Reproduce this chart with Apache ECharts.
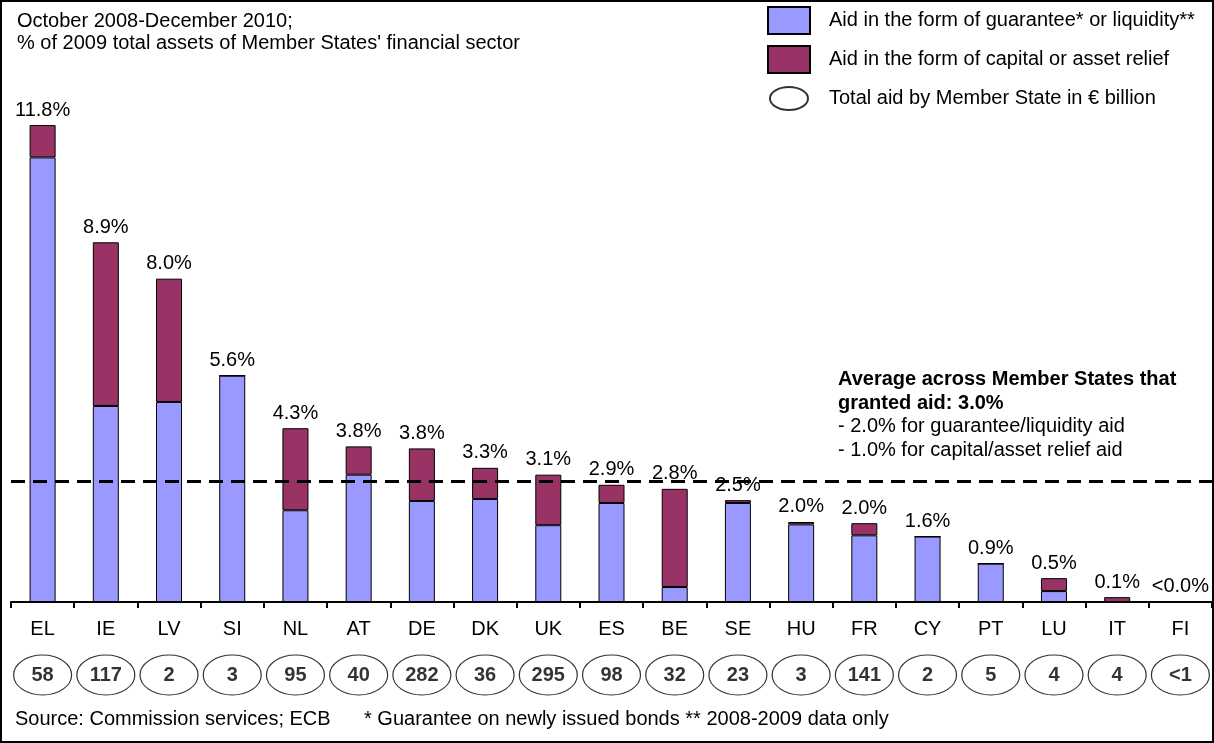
<!DOCTYPE html>
<html>
<head>
<meta charset="utf-8">
<script src="https://cdn.jsdelivr.net/npm/echarts@6/dist/echarts.min.js"></script>
<style>
  body { margin: 0; background: #fff; }
  #chart { width: 1214px; height: 743px; }
</style>
</head>
<body>
<div id="chart"></div>
<script>
  // State aid per Member State, % of 2009 financial sector assets
  var countries = ['EL', 'IE', 'LV', 'SI', 'NL', 'AT', 'DE', 'DK', 'UK', 'ES', 'BE', 'SE', 'HU', 'FR', 'CY', 'PT', 'LU', 'IT', 'FI'];
  var guarantee = [11.0, 4.85, 4.95, 5.6, 2.27, 3.15, 2.5, 2.55, 1.9, 2.45, 0.37, 2.45, 1.92, 1.65, 1.62, 0.95, 0.27, 0.0, 0.0];
  var capital = [0.8, 4.05, 3.05, 0.0, 2.03, 0.7, 1.3, 0.77, 1.25, 0.45, 2.43, 0.07, 0.06, 0.3, 0.0, 0.0, 0.32, 0.12, 0.01];
  var totalLabels = ['11.8%', '8.9%', '8.0%', '5.6%', '4.3%', '3.8%', '3.8%', '3.3%', '3.1%', '2.9%', '2.8%', '2.5%', '2.0%', '2.0%', '1.6%', '0.9%', '0.5%', '0.1%', '<0.0%'];
  var aidBillion = ['58', '117', '2', '3', '95', '40', '282', '36', '295', '98', '32', '23', '3', '141', '2', '5', '4', '4', '<1'];
  var average = 3.0;

  var ellipse = 'path://M0,20 A29,20 0 1,1 58,20 A29,20 0 1,1 0,20 Z';
  // the two bare moves pad the icon box so the ellipse stays 38x23 inside 42x27
  var legendEllipse = 'path://M0,0 M42,27 M2,13.5 A19,11.5 0 1,1 40,13.5 A19,11.5 0 1,1 2,13.5 Z';
  var font = 'Arial, "Liberation Sans", sans-serif';

  var myChart = echarts.init(document.getElementById('chart'));
  var option = {
    animation: false,
    textStyle: { fontFamily: font, color: '#000' },
    legend: {
      orient: 'vertical',
      left: 767,
      top: 6,
      padding: 0,
      itemWidth: 42,
      itemHeight: 27,
      itemGap: 10,
      textStyle: { fontSize: 20, color: '#000', padding: [0, 0, 0, 14] },
      data: [
        { name: 'Aid in the form of guarantee* or liquidity**', icon: 'rect' },
        { name: 'Aid in the form of capital or asset relief', icon: 'rect' },
        { name: 'Total aid by Member State in € billion', icon: legendEllipse }
      ]
    },
    graphic: [
      { type: 'rect', shape: { x: 1, y: 1, width: 1212, height: 741 }, style: { fill: 'none', stroke: '#000', lineWidth: 2 } },
      { type: 'text', left: 17, top: 11, style: { text: 'October 2008-December 2010;', font: '20px ' + font, fill: '#000' } },
      { type: 'text', left: 17, top: 33, style: { text: "% of 2009 total assets of Member States' financial sector", font: '20px ' + font, fill: '#000' } },
      { type: 'text', left: 838, top: 368, style: { text: 'Average across Member States that\ngranted aid: 3.0%', font: 'bold 20px ' + font, lineHeight: 23.5, fill: '#000' } },
      { type: 'text', left: 838, top: 415, style: { text: '- 2.0% for guarantee/liquidity aid\n- 1.0% for capital/asset relief aid', font: '20px ' + font, lineHeight: 23.5, fill: '#000' } },
      { type: 'text', left: 15, top: 709, style: { text: 'Source: Commission services; ECB      * Guarantee on newly issued bonds ** 2008-2009 data only', font: '20px ' + font, fill: '#000' } }
    ],
    grid: [
      { left: 11, right: 2, top: 117, bottom: 141 },
      { left: 11, right: 2, top: 655, height: 40 }
    ],
    xAxis: [
      {
        type: 'category',
        gridIndex: 0,
        data: countries,
        axisLine: { lineStyle: { color: '#000', width: 2 } },
        axisTick: { show: true, length: 6, lineStyle: { color: '#000', width: 2 } },
        axisLabel: { margin: 17, fontSize: 20, color: '#000', interval: 0 }
      },
      {
        type: 'category',
        gridIndex: 1,
        data: countries,
        show: false
      }
    ],
    yAxis: [
      { type: 'value', gridIndex: 0, min: 0, max: 12, show: false, splitLine: { show: false } },
      { type: 'value', gridIndex: 1, min: 0, max: 1, show: false, splitLine: { show: false } }
    ],
    series: [
      {
        name: 'Aid in the form of guarantee* or liquidity**',
        type: 'bar',
        stack: 'aid',
        barWidth: 26,
        z: 2,
        itemStyle: { color: '#9999ff', borderColor: '#000', borderWidth: 1 },
        data: guarantee,
        markLine: {
          silent: true,
          symbol: 'none',
          label: { show: false },
          lineStyle: { color: '#000', width: 3, type: [14, 8] },
          data: [{ yAxis: average }]
        }
      },
      {
        name: 'Aid in the form of capital or asset relief',
        type: 'bar',
        stack: 'aid',
        barWidth: 26,
        z: 3,
        itemStyle: { color: '#993366', borderColor: '#000', borderWidth: 1 },
        label: {
          show: true,
          position: 'top',
          distance: 5,
          fontSize: 20,
          color: '#000',
          backgroundColor: '#fff',
          padding: [0, 2],
          formatter: function (p) { return totalLabels[p.dataIndex]; }
        },
        data: capital
      },
      {
        name: 'Total aid by Member State in € billion',
        type: 'scatter',
        xAxisIndex: 1,
        yAxisIndex: 1,
        symbol: ellipse,
        symbolSize: [58, 40],
        itemStyle: { color: '#fff', borderColor: '#000', borderWidth: 1 },
        label: {
          show: true,
          position: 'inside',
          fontSize: 20,
          fontWeight: 'bold',
          color: '#000',
          formatter: function (p) { return aidBillion[p.dataIndex]; }
        },
        data: countries.map(function () { return 0.5; })
      }
    ]
  };
  myChart.setOption(option);
</script>
</body>
</html>
